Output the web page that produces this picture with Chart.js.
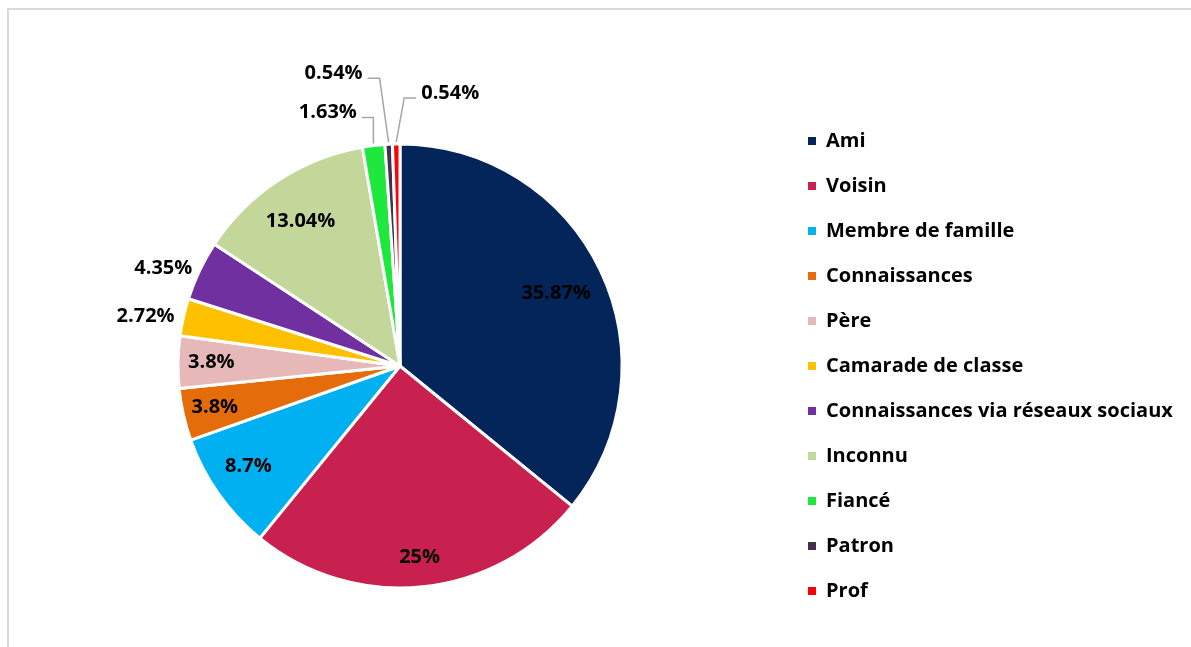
<!DOCTYPE html>
<html lang="fr">
<head>
<meta charset="utf-8">
<title>Relation avec l'agresseur</title>
<script src="https://cdn.jsdelivr.net/npm/chart.js@4.4.1/dist/chart.umd.min.js"></script>
<style>
  html, body { margin: 0; padding: 0; background: #fff; overflow: hidden; }
  #frame { position: absolute; left: 7px; top: 8px; width: 1400px; height: 900px;
           border-left: 2px solid #dadada; border-top: 2px solid #dadada; }
  #wrap { position: absolute; left: 0; top: 0; width: 1191px; height: 647px; }
</style>
</head>
<body>
<div id="frame"></div>
<div id="wrap"><canvas id="pie"></canvas></div>
<script>
const categories = [
  "Ami", "Voisin", "Membre de famille", "Connaissances", "Père",
  "Camarade de classe", "Connaissances via réseaux sociaux", "Inconnu",
  "Fiancé", "Patron", "Prof"
];
const percentages = [35.87, 25, 8.7, 3.8, 3.8, 2.72, 4.35, 13.04, 1.63, 0.54, 0.54];
const sliceColors = [
  "#03255a", "#c9214f", "#00b0f0", "#e46c0a", "#e6b9b8",
  "#ffc000", "#7030a0", "#c4d79b", "#1ee83e", "#403151", "#ff0000"
];

// label placement: r = share of the radius, da = angle shift (deg),
// lead = [elbow dx, elbow dy, arm length] for labels with a leader line
const labelSpots = [
  { r: 0.775, da: 0.6 },
  { r: 0.865 },
  { r: 0.82, da: 1.6 },
  { r: 0.855 },
  { r: 0.85 },
  { r: 1.168, da: -1.6 },
  { r: 1.153, da: -3.1 },
  { r: 0.79, da: -1.3 },
  { lead: [0, -26, -11.5] },
  { lead: [-9, -64, -12] },
  { lead: [8, -44, 12] }
];

const fontFamily = "'Open Sans'";
const fontPx = 20;
const legendPad = 25;
const boxSize = 8;

// work out right padding so that the legend items start at x = 808
const measure = document.createElement("canvas").getContext("2d");
measure.font = `bold ${fontPx}px ${fontFamily}`;
const widest = Math.max(...categories.map((c) => measure.measureText(c).width));
const legendWidth = legendPad + boxSize + fontPx / 2 + widest + 10;
const legendLeft = 808 - legendPad;
const rightPad = Math.max(0, 1191 - legendLeft - legendWidth);
const leftPad = 2 * 400 - legendLeft;

const sliceLabels = {
  id: "sliceLabels",
  afterDatasetsDraw(chart) {
    const ctx = chart.ctx;
    const arcs = chart.getDatasetMeta(0).data;
    ctx.save();
    ctx.font = `bold ${fontPx}px ${fontFamily}`;
    ctx.fillStyle = "#000";
    ctx.textBaseline = "middle";
    arcs.forEach((arc, i) => {
      const { x, y, startAngle, endAngle, outerRadius } = arc.getProps(
        ["x", "y", "startAngle", "endAngle", "outerRadius"], true);
      const mid = (startAngle + endAngle) / 2;
      const spot = labelSpots[i];
      const text = percentages[i] + "%";
      if (spot.lead) {
        const [ex, ey, arm] = spot.lead;
        const ax = x + Math.cos(mid) * (outerRadius + 2);
        const ay = y + Math.sin(mid) * (outerRadius + 2);
        const bx = ax + ex;
        const by = ay + ey;
        const endX = bx + arm;
        ctx.strokeStyle = "#a6a6a6";
        ctx.lineWidth = 1.5;
        ctx.beginPath();
        ctx.moveTo(ax, ay);
        ctx.lineTo(bx, by);
        ctx.lineTo(endX, by);
        ctx.stroke();
        ctx.textAlign = arm < 0 ? "right" : "left";
        ctx.fillText(text, endX + Math.sign(arm) * 5, by - 5);
      } else {
        const a = mid + ((spot.da || 0) * Math.PI) / 180;
        ctx.textAlign = "center";
        ctx.fillText(text, x + Math.cos(a) * outerRadius * spot.r,
                           y + Math.sin(a) * outerRadius * spot.r);
      }
    });
    ctx.restore();
  }
};

new Chart(document.getElementById("pie"), {
  type: "pie",
  data: {
    labels: categories,
    datasets: [{
      data: percentages,
      backgroundColor: sliceColors,
      borderColor: "#ffffff",
      borderWidth: 3,
      hoverBorderWidth: 3,
      hoverOffset: 0
    }]
  },
  options: {
    responsive: true,
    maintainAspectRatio: false,
    animation: false,
    events: [],
    radius: 222,
    layout: { padding: { left: leftPad, right: rightPad, top: 85, bottom: 0 } },
    plugins: {
      tooltip: { enabled: false },
      legend: {
        position: "right",
        align: "center",
        labels: {
          boxWidth: boxSize,
          boxHeight: boxSize,
          padding: legendPad,
          color: "#000",
          font: { family: fontFamily, size: fontPx, weight: "bold" },
          generateLabels: (chart) => categories.map((text, i) => ({
            text,
            fillStyle: sliceColors[i],
            strokeStyle: sliceColors[i],
            lineWidth: 0,
            fontColor: "#000",
            hidden: false,
            index: i
          }))
        }
      }
    }
  },
  plugins: [sliceLabels]
});
</script>
</body>
</html>
